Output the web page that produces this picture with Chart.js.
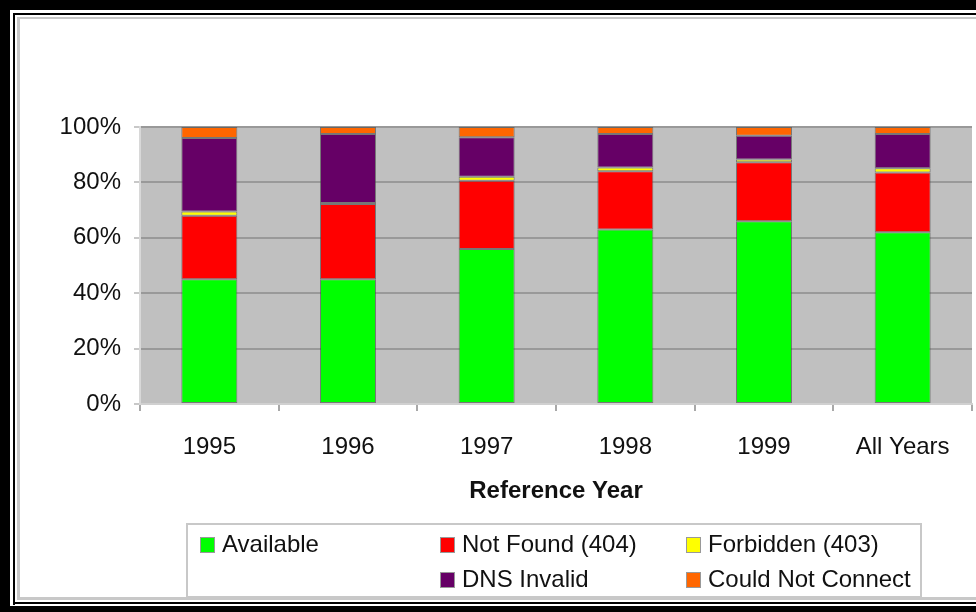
<!DOCTYPE html>
<html lang="en">
<head>
    <meta charset="UTF-8">
    <title>Link Status by Reference Year</title>
    <script src="https://cdn.jsdelivr.net/npm/chart.js"></script>
    <style>
        html, body { margin: 0; padding: 0; background: #fff; }
        #wrap { width: 976px; height: 612px; position: relative; }
    </style>
</head>
<body>
<div id="wrap"><canvas id="chart" width="976" height="612"></canvas></div>
<script>
    // values (percent of links per year)
    const years = ['1995', '1996', '1997', '1998', '1999', 'All Years'];
    const available      = [45, 45, 56, 63, 66, 62];
    const notFound       = [23, 27.2, 24.6, 21, 21.3, 21.6];
    const forbidden      = [1.5, 0.4, 1.4, 1.4, 1, 1.5];
    const dnsInvalid     = [26.5, 24.9, 14.3, 12.1, 8.5, 12.4];
    const couldNotConnect = [4, 2.5, 3.7, 2.5, 3.2, 2.5];
    const yTicks = [0, 20, 40, 60, 80, 100];

    const font = 'Liberation Sans, Arial, sans-serif';

    // grey plot background
    const plotBg = {
        id: 'plotBg',
        beforeDraw(chart) {
            const {ctx, chartArea: a} = chart;
            ctx.save();
            ctx.fillStyle = '#c0c0c0';
            ctx.fillRect(a.left, a.top, a.right - a.left, a.bottom - a.top);
            ctx.restore();
        }
    };

    // legend box in a 3x2 grid, one slot (row 2, col 1) left empty
    const gridLegend = {
        id: 'gridLegend',
        afterDraw(chart) {
            const ctx = chart.ctx;
            const cols = [200, 440, 686];
            const rows = [545, 580];
            const slots = [[0, 0], [1, 0], [2, 0], [1, 1], [2, 1]];
            ctx.save();
            ctx.strokeStyle = '#c8c8c8';
            ctx.lineWidth = 2;
            ctx.strokeRect(187, 524, 734, 73);
            ctx.font = '24px ' + font;
            ctx.textBaseline = 'middle';
            ctx.fillStyle = '#111';
            chart.data.datasets.forEach((ds, i) => {
                const [c, r] = slots[i];
                const x = cols[c], y = rows[r];
                ctx.fillStyle = ds.backgroundColor;
                ctx.fillRect(x, y - 8, 15, 16);
                ctx.strokeStyle = '#999';
                ctx.lineWidth = 1;
                ctx.strokeRect(x + 0.5, y - 7.5, 14, 15);
                ctx.fillStyle = '#111';
                ctx.fillText(ds.label, x + 22, y);
            });
            ctx.restore();
        }
    };

    // double black frame around the picture
    const frame = {
        id: 'frame',
        afterDraw(chart) {
            const ctx = chart.ctx;
            ctx.save();
            ctx.fillStyle = '#000';
            ctx.fillRect(0, 0, 976, 10);
            ctx.fillRect(0, 0, 10, 612);
            ctx.fillRect(0, 606, 976, 6);
            ctx.fillRect(13, 13, 963, 2);
            ctx.fillRect(13, 13, 2, 592);
            ctx.fillRect(13, 602, 963, 2);
            ctx.fillStyle = '#c8c8c8';
            ctx.fillRect(17, 17, 959, 2);
            ctx.fillRect(17, 17, 3, 582);
            ctx.fillRect(17, 597, 959, 3);
            ctx.restore();
        }
    };

    function bar(label, data, color) {
        return {
            label: label,
            data: data,
            backgroundColor: color,
            borderColor: 'rgba(70,70,70,0.6)',
            borderWidth: 1,
            borderSkipped: false,
            barPercentage: 0.404,
            categoryPercentage: 1.0
        };
    }

    new Chart(document.getElementById('chart').getContext('2d'), {
        type: 'bar',
        data: {
            labels: years,
            datasets: [
                bar('Available', available, '#00ff00'),
                bar('Not Found (404)', notFound, '#ff0000'),
                bar('Forbidden (403)', forbidden, '#ffff00'),
                bar('DNS Invalid', dnsInvalid, '#660066'),
                bar('Could Not Connect', couldNotConnect, '#ff6600')
            ]
        },
        options: {
            responsive: false,
            animation: false,
            layout: { padding: { top: 127, right: 4, left: 0, bottom: 0 } },
            plugins: {
                legend: { display: false },
                tooltip: { enabled: false }
            },
            scales: {
                x: {
                    stacked: true,
                    grid: {
                        offset: true,
                        drawOnChartArea: false,
                        tickLength: 7,
                        tickColor: '#a8a8a8',
                        lineWidth: 2
                    },
                    border: { color: '#d0d0d0', width: 2 },
                    ticks: {
                        color: '#111',
                        padding: 22,
                        font: { family: font, size: 24 }
                    },
                    title: {
                        display: true,
                        text: 'Reference Year',
                        color: '#111',
                        font: { family: font, size: 24, weight: 'bold' },
                        padding: { top: 4, bottom: 106 }
                    },
                    afterFit(scale) { scale.height = 208; }
                },
                y: {
                    stacked: true,
                    min: 0,
                    max: 100,
                    afterBuildTicks(scale) {
                        scale.ticks = yTicks.map(v => ({ value: v }));
                    },
                    grid: {
                        color: '#999',
                        lineWidth: 2,
                        tickLength: 6,
                        tickColor: '#c8c8c8'
                    },
                    border: { color: '#d8d8d8', width: 2 },
                    ticks: {
                        color: '#111',
                        padding: 13,
                        font: { family: font, size: 24 },
                        callback: v => v + '%'
                    },
                    afterFit(scale) { scale.width = 140; }
                }
            }
        },
        plugins: [plotBg, gridLegend, frame]
    });
</script>
</body>
</html>
